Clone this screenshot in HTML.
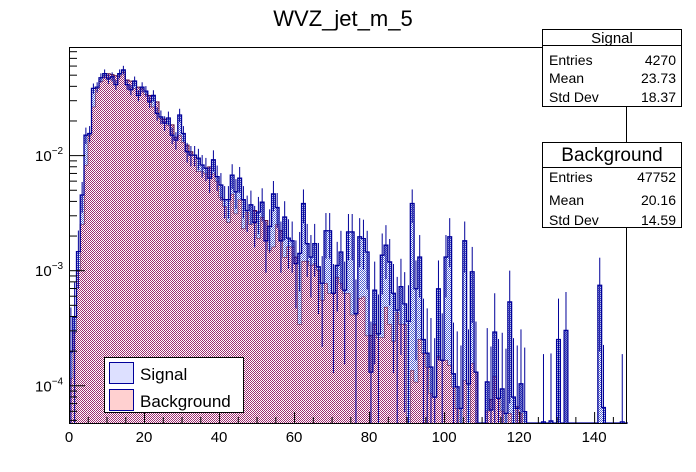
<!DOCTYPE html>
<html><head><meta charset="utf-8">
<style>
html,body{margin:0;padding:0;background:#fff;}
svg{display:block;font-family:"Liberation Sans",Arial,sans-serif;}
</style></head>
<body>
<svg id="chart" width="696" height="472" viewBox="0 0 696 472">
<defs>
<pattern id="bgpat" width="2" height="2" patternUnits="userSpaceOnUse">
<rect width="2" height="2" fill="#ffffff"/>
<rect width="1" height="1" fill="#9c2a6e"/>
<rect x="1" y="1" width="1" height="1" fill="#9c2a6e"/>
</pattern>
<pattern id="sigpat" width="2" height="2" patternUnits="userSpaceOnUse">
<rect width="2" height="2" fill="#ffffff"/>
<rect width="1" height="1" fill="#5060d0"/>
<rect x="1" y="1" width="1" height="1" fill="#5060d0"/>
</pattern>
</defs>
<text x="343" y="26" font-size="22" text-anchor="middle" fill="#000">WVZ_jet_m_5</text>
<g id="plot"></g>
<g id="axes"></g>
<g>
<rect x="104.5" y="357.5" width="139" height="55" fill="#fff" stroke="#000" stroke-width="1"/>
<g>
<rect x="109.5" y="362.5" width="24" height="21" fill="#dde0ff" stroke="#000099"/>
<text x="140" y="380" font-size="17">Signal</text>
</g>
<g>
<rect x="109.5" y="389.5" width="24" height="21" fill="#ffd0d0" stroke="#000099"/>
<text x="140" y="407" font-size="17">Background</text>
</g>
</g>
<g>
<line x1="626.5" y1="107" x2="626.5" y2="142" stroke="#000"/>
<rect x="542.5" y="29.5" width="139" height="77" fill="#fff" stroke="#000"/>
<line x1="542.5" y1="45.5" x2="681.5" y2="45.5" stroke="#000"/>
<text x="612" y="43" font-size="15" text-anchor="middle">Signal</text>
<text x="549" y="65" font-size="14">Entries</text><text x="676" y="65" font-size="14" text-anchor="end">4270</text>
<text x="549" y="83" font-size="14">Mean</text><text x="676" y="83" font-size="14" text-anchor="end">23.73</text>
<text x="549" y="102" font-size="14">Std Dev</text><text x="676" y="102" font-size="14" text-anchor="end">18.37</text>
</g>
<g>
<rect x="542.5" y="142.5" width="139" height="85" fill="#fff" stroke="#000"/>
<line x1="542.5" y1="167.5" x2="681.5" y2="167.5" stroke="#000"/>
<text x="612" y="161" font-size="19" text-anchor="middle">Background</text>
<text x="549" y="182" font-size="14">Entries</text><text x="676" y="182" font-size="14" text-anchor="end">47752</text>
<text x="549" y="205" font-size="14">Mean</text><text x="676" y="205" font-size="14" text-anchor="end">20.16</text>
<text x="549" y="225" font-size="14">Std Dev</text><text x="676" y="225" font-size="14" text-anchor="end">14.59</text>
</g>
</svg>
<script>
const signal = [1.95e-4,3.9e-4,1.45e-3,4.5e-3,0.0149,0.0154,0.038,0.039,0.047,0.051,0.046,0.048,0.041,0.051,0.055,0.041,0.037,0.044,0.033,0.039,0.036,0.029,0.033,0.023,0.0215,0.019,0.021,0.0149,0.0135,0.0223,0.0154,0.0107,0.01,0.01,0.0094,0.0082,
0.0077,0.0063,0.0091,0.0065,0.0055,0.0041,0.0041,0.0067,0.0048,0.0063,0.0041,0.0033,0.0037,0.0026,0.0032,0.0039,0.0018,0.0024,0.0046,0.0035,0.0018,0.0029,0.0019,0.0018,0.00114,0.0014,0.0038,0.0017,0.0013,0.0017,0.00107,0.00077,0.0022,
0.0022,0.00063,0.0011,0.00144,0.00067,0.00215,0.00215,0.00042,0.00195,0.00188,0.00144,0.00013,0.00067,0.00028,0.00135,0.00165,0.00118,0.00063,0.00045,0.00072,0.00051,0.00036,0.0038,0.00069,0.0013,0.00025,0.00019,0.000144,7.9e-5,0.00069,0.000165,0.0013,0.00195,0.000126,9.7e-5,6.3e-5,
0.0018,1.03e-4,0.00097,0.00013,0,0,1.07e-4,6.1e-5,0.00029,7.7e-5,9.3e-5,5.7e-5,0.00053,7.9e-5,6.3e-5,1.03e-4,5.9e-5,0,0,0,0,4.8e-5,0,4.9e-5,0,0.00025,0,0.0003,0,0,0,0,0,0,0,0,0.00074,6.4e-5,0,0,0,0,4.8e-5,0];
const background = [1.15e-4,2.9e-4,1e-3,2.5e-3,0.0082,0.0149,0.0263,0.038,0.044,0.049,0.051,0.050,0.049,0.049,0.053,0.045,0.044,0.038,0.039,0.038,0.034,0.033,0.0263,0.029,0.021,0.0205,0.0183,0.0183,0.0143,0.0149,0.013,0.0122,0.0107,0.01,0.0072,0.0072,
0.0069,0.0079,0.0069,0.0059,0.0043,0.0036,0.0026,0.0046,0.0031,0.0041,0.0023,0.0032,0.0025,0.0033,0.0019,0.0029,0.0027,0.0015,0.0016,0.0025,0.0022,0.0013,0.0016,0.0016,0.0013,0.00034,0.0012,0.0012,0.0011,0.00114,0.001,0.00055,0.00077,
0.00063,0.00063,0.00087,0.00077,0.00063,0.00063,0.00041,0.00041,0.00057,0.00059,0.00027,0.00027,0.00034,0.00026,0.00026,0.00048,0.00034,0.00024,0.00043,0.00034,0.00034,0,0.000135,0.000107,0.00025,0.00019,0.000144,8.5e-5,7.9e-5,0.00018,0.000165,0.000165,0.00015,9.7e-5,6.3e-5,0,
1.1e-4,0,1.55e-4,1.3e-4,0,0,6e-5,7.5e-5,1.2e-4,7.7e-5,6e-5,0,5.7e-5,0,6.5e-5,5.7e-5,0,0,0,0,0,0,0,0,0,0,0,0,0,0,0,0,0,0,0,0,0,0,0,0,0,0,0,0];
const xTickLabels = [0,20,40,60,80,100,120,140];
const yDecades = [-4,-3,-2];

const NS="http://www.w3.org/2000/svg";
const X0=69, X1=626, Y0=423, Y1=47;
const XMIN=0, XMAX=148.5, LMIN=Math.log10(4.7e-5), LMAX=Math.log10(0.087);
const sx = v => X0 + (v-XMIN)/(XMAX-XMIN)*(X1-X0);
const sy = v => { if(v<=0) return Y0; const y = Y0 - (Math.log10(v)-LMIN)/(LMAX-LMIN)*(Y0-Y1); return Math.max(Y1, Math.min(Y0, y)); };
const plot=document.getElementById('plot'), axes=document.getElementById('axes');
function mk(tag, parent){ const e=document.createElementNS(NS,tag); parent.appendChild(e); return e; }

const bgGroup=mk('g',plot);


background.forEach((v,i)=>{
  if(v<=0) return;
  const r=mk('rect',bgGroup);
  
  
  const x=sx(i), w=sx(i+1)-x, y=sy(v);
  r.setAttribute('x',x); r.setAttribute('y',y); r.setAttribute('width',w); r.setAttribute('height',Y0-y);
  r.setAttribute('fill','url(#bgpat)');
});
let d='';
background.forEach((v,i)=>{ const y=sy(v); d+=(i===0?'M':'L')+sx(i)+','+y+' L'+sx(i+1)+','+y+' '; });
const bgLine=mk('path',bgGroup);


bgLine.setAttribute('d',d); bgLine.setAttribute('fill','none'); bgLine.setAttribute('stroke','#5a1040'); bgLine.setAttribute('stroke-width','1');

const sigGroup=mk('g',plot);


signal.forEach((v,i)=>{
  if(v<=0) return;
  const b=background[i];
  const ys=sy(v), yb=sy(b);
  const x=sx(i), w=sx(i+1)-x;
  if(v>b){
    const r=mk('rect',sigGroup);
    
    
    r.setAttribute('x',x); r.setAttribute('y',ys); r.setAttribute('width',w); r.setAttribute('height',Math.max(0,yb-ys)); r.setAttribute('fill','url(#sigpat)');
  }
  const err=Math.sqrt(v*4e-4);
  const e=mk('line',sigGroup);
  
  
  const xc=(sx(i)+sx(i+1))/2;
  e.setAttribute('x1',xc); e.setAttribute('x2',xc);
  e.setAttribute('y1',sy(v+err)); e.setAttribute('y2',sy(v-err));
  e.setAttribute('stroke','#000099'); e.setAttribute('stroke-width','1');
});
let ds='';
signal.forEach((v,i)=>{ const y=sy(v); ds+=(i===0?'M':'L')+sx(i)+','+y+' L'+sx(i+1)+','+y+' '; });
const sigLine=mk('path',sigGroup);


sigLine.setAttribute('d',ds); sigLine.setAttribute('fill','none'); sigLine.setAttribute('stroke','#000099'); sigLine.setAttribute('stroke-width','1.3');

const fr=mk('rect',axes);


fr.setAttribute('x',X0+0.5); fr.setAttribute('y',Y1+0.5); fr.setAttribute('width',X1-X0); fr.setAttribute('height',Y0-Y1);
fr.setAttribute('fill','none'); fr.setAttribute('stroke','#000');

for(let t=0;t<=145;t+=5){
  const l=mk('line',axes);
  
  
  const x=sx(t)+0.5, major=(t%20===0);
  l.setAttribute('x1',x); l.setAttribute('x2',x); l.setAttribute('y1',Y0); l.setAttribute('y2',Y0-(major?11:6)); l.setAttribute('stroke','#000');
}
xTickLabels.forEach(t=>{
  const tx=mk('text',axes);
  
  
  tx.setAttribute('x',sx(t)); tx.setAttribute('y',442); tx.setAttribute('font-size','15'); tx.setAttribute('text-anchor','middle');
  tx.textContent=String(t);
});
for(let dec=-5;dec<=-1;dec++){
  for(let m=1;m<=9;m++){
    const v=m*Math.pow(10,dec); const lv=Math.log10(v);
    if(lv<LMIN||lv>LMAX) continue;
    const y=sy(v)+0.5;
    const l=mk('line',axes);
    
    
    l.setAttribute('x1',X0); l.setAttribute('x2',X0+(m===1?16:8)); l.setAttribute('y1',y); l.setAttribute('y2',y); l.setAttribute('stroke','#000');
  }
}
yDecades.forEach(dec=>{
  const y=sy(Math.pow(10,dec));
  const tx=mk('text',axes);
  
  
  tx.setAttribute('x',35); tx.setAttribute('y',y+6); tx.setAttribute('font-size','15');
  tx.textContent='10';
  const sp=mk('tspan',tx); sp.setAttribute('dy','-7'); sp.setAttribute('font-size','10'); sp.textContent=String.fromCharCode(8722)+Math.abs(dec);
});
const c=mk('line',axes);


c.setAttribute('x1',X1); c.setAttribute('x2',542); c.setAttribute('y1',Y1+0.5); c.setAttribute('y2',Y1+0.5); c.setAttribute('stroke','#000');
</script>
</body></html>
